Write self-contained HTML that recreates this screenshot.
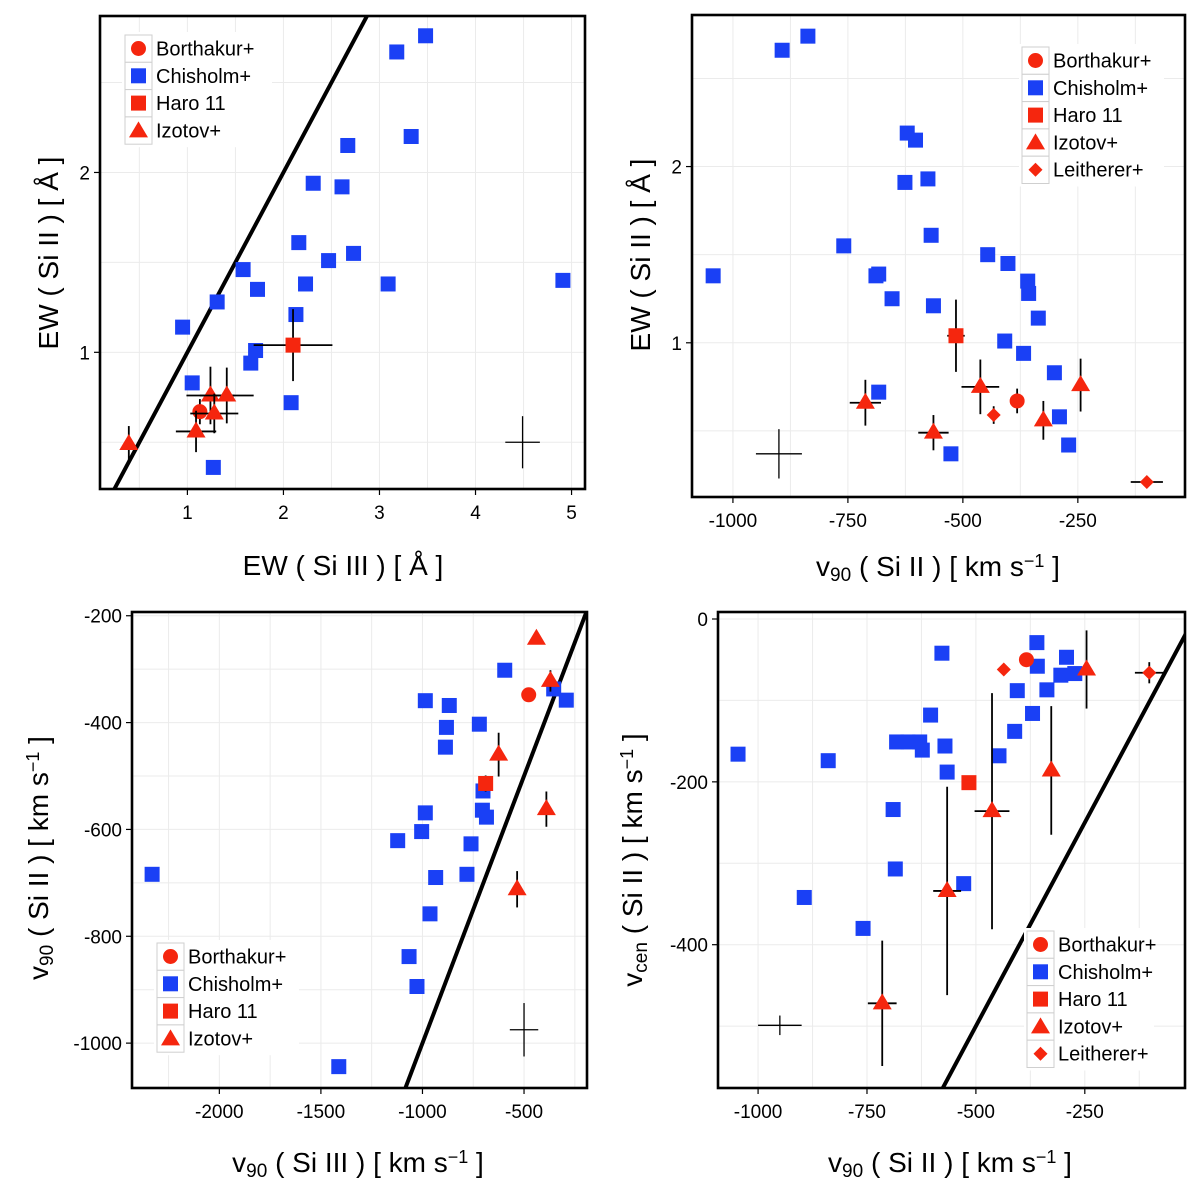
<!DOCTYPE html>
<html><head><meta charset="utf-8"><style>
html,body{margin:0;padding:0;background:#fff;overflow:hidden;width:1200px;height:1198px}
svg{display:block;font-family:"Liberation Sans",Arial,sans-serif}
</style></head><body>
<svg id="fig" width="1200" height="1198" viewBox="0 0 1200 1198" xmlns="http://www.w3.org/2000/svg"></svg>
<script>
// ---------- Panel 1 data: EW(Si III) vs EW(Si II) ----------
const p1ChisX=[3.48,3.18,3.33,2.67,2.31,2.61,2.16,2.73,2.47,1.58,2.23,1.73,3.09,4.91,1.31,0.95,2.13,1.71,1.66,1.05,2.08,1.27];
const p1ChisY=[2.76,2.67,2.20,2.15,1.94,1.92,1.61,1.55,1.51,1.46,1.38,1.35,1.38,1.40,1.28,1.14,1.21,1.01,0.94,0.83,0.72,0.36];
const p1BorX=[1.13], p1BorY=[0.67], p1BorXe=[0.04], p1BorYe=[0.07];
const p1HaroX=[2.10], p1HaroY=[1.04], p1HaroXe=[0.41], p1HaroYe=[0.2];
const p1IzoX=[0.39,1.09,1.24,1.41,1.28], p1IzoY=[0.49,0.56,0.76,0.76,0.66];
const p1IzoXe=[0,0.21,0.25,0.28,0.25], p1IzoYe=[0.1,0.115,0.16,0.155,0.11];
const p1RefX=[4.49], p1RefY=[0.50], p1RefXe=[0.18], p1RefYe=[0.145];
const p1XTicks=[1,2,3,4,5], p1YTicks=[1,2];
const p1XMinor=[0.5,1.5,2.5,3.5,4.5], p1YMinor=[0.5,1.5,2.5];

// ---------- Panel 2 data: v90(Si II) vs EW(Si II) ----------
const p2ChisX=[-1043,-893,-837,-621,-603,-626,-576,-759,-683,-689,-569,-446,-402,-359,-357,-654,-564,-336,-409,-368,-301,-683,-290,-270,-526];
const p2ChisY=[1.38,2.66,2.74,2.19,2.15,1.91,1.93,1.55,1.39,1.38,1.61,1.50,1.45,1.35,1.28,1.25,1.21,1.14,1.01,0.94,0.83,0.72,0.58,0.42,0.37];
const p2BorX=[-382], p2BorY=[0.67], p2BorXe=[0], p2BorYe=[0.07];
const p2HaroX=[-515], p2HaroY=[1.04], p2HaroXe=[19], p2HaroYe=[0.205];
const p2IzoX=[-712,-564,-462,-325,-244], p2IzoY=[0.66,0.49,0.75,0.56,0.76];
const p2IzoXe=[34,33,41,10,0], p2IzoYe=[0.13,0.1,0.155,0.11,0.15];
const p2LeiX=[-433,-100], p2LeiY=[0.59,0.21], p2LeiXe=[0,35], p2LeiYe=[0.05,0];
const p2RefX=[-900], p2RefY=[0.37], p2RefXe=[50], p2RefYe=[0.14];
const p2XTicks=[-1000,-750,-500,-250], p2YTicks=[1,2];
const p2XMinor=[-875,-625,-375,-125], p2YMinor=[0.5,1.5,2.5];

// ---------- Panel 3 data: v90(Si III) vs v90(Si II) ----------
const p3ChisX=[-2331,-1412,-595,-354,-292,-986,-868,-882,-720,-887,-702,-705,-685,-986,-1004,-1122,-761,-781,-935,-963,-1066,-1027];
const p3ChisY=[-684,-1044,-302,-337,-358,-359,-368,-409,-403,-446,-528,-564,-577,-569,-604,-621,-627,-684,-690,-758,-838,-894];
const p3BorX=[-477], p3BorY=[-348], p3BorXe=[0], p3BorYe=[0];
const p3HaroX=[-689], p3HaroY=[-514], p3HaroXe=[0], p3HaroYe=[15];
const p3IzoX=[-439,-370,-625,-390,-534], p3IzoY=[-243,-322,-460,-562,-712];
const p3IzoXe=[0,0,0,0,0], p3IzoYe=[8,20,41,33,34];
const p3RefX=[-500], p3RefY=[-975], p3RefXe=[70], p3RefYe=[50];
const p3XTicks=[-2000,-1500,-1000,-500], p3YTicks=[-1000,-800,-600,-400,-200];
const p3XMinor=[-2250,-1750,-1250,-750,-250], p3YMinor=[-1100,-900,-700,-500,-300];

// ---------- Panel 4 data: v90(Si II) vs vcen(Si II) ----------
const p4ChisX=[-1046,-839,-894,-759,-578,-604,-682,-656,-629,-623,-571,-566,-690,-685,-528,-447,-411,-370,-405,-337,-360,-359,-292,-305,-273];
const p4ChisY=[-166,-174,-342,-380,-42,-118,-151,-151,-151,-161,-156,-188,-234,-307,-325,-168,-138,-116,-88,-87,-29,-58,-47,-69,-67];
const p4BorX=[-384], p4BorY=[-50], p4BorXe=[0], p4BorYe=[0];
const p4HaroX=[-516], p4HaroY=[-201], p4HaroXe=[0], p4HaroYe=[0];
const p4IzoX=[-715,-566,-463,-327,-246], p4IzoY=[-472,-334,-236,-186,-62];
const p4IzoXe=[33,32,40,12,0], p4IzoYe=[77,128,145,79,48];
const p4LeiX=[-436,-102], p4LeiY=[-62,-66], p4LeiXe=[0,33], p4LeiYe=[0,13];
const p4RefX=[-950], p4RefY=[-499], p4RefXe=[50], p4RefYe=[12];
const p4XTicks=[-1000,-750,-500,-250], p4YTicks=[-400,-200,0];
const p4XMinor=[-875,-625,-375,-125], p4YMinor=[-500,-300,-100];

const RED="#f5260e", BLUE="#1a40f5";
const NS="http://www.w3.org/2000/svg";
const fig=document.getElementById('fig');
function el(tag,attrs,parent){const e=document.createElementNS(NS,tag);for(const k in attrs)e.setAttribute(k,attrs[k]);(parent||fig).appendChild(e);return e;}

function marker(g,shape,x,y,color){
  if(shape==='circle')return el('circle',{cx:x,cy:y,r:7.5,fill:color},g);
  if(shape==='square')return el('rect',{x:x-7.5,y:y-7.5,width:15,height:15,fill:color},g);
  if(shape==='triangle')return el('polygon',{points:`${x},${y-10} ${x+9.5},${y+6} ${x-9.5},${y+6}`,fill:color},g);
  return el('polygon',{points:`${x},${y-7} ${x+7},${y} ${x},${y+7} ${x-7},${y}`,fill:color},g);
}

function mkSeries(d){
  const s=[
    {name:'chisholm',label:'Chisholm+',shape:'square',color:BLUE,x:d.chisX,y:d.chisY},
    {name:'borthakur',label:'Borthakur+',shape:'circle',color:RED,x:d.borX,y:d.borY,xe:d.borXe,ye:d.borYe},
    {name:'haro-11',label:'Haro 11',shape:'square',color:RED,x:d.haroX,y:d.haroY,xe:d.haroXe,ye:d.haroYe},
    {name:'izotov',label:'Izotov+',shape:'triangle',color:RED,x:d.izoX,y:d.izoY,xe:d.izoXe,ye:d.izoYe}
  ];
  if(d.leiX)s.push({name:'leitherer',label:'Leitherer+',shape:'diamond',color:RED,x:d.leiX,y:d.leiY,xe:d.leiXe,ye:d.leiYe});
  s.push({name:'typical-error-cross',ref:true,x:d.refX,y:d.refY,xe:d.refXe,ye:d.refYe});
  return s;
}

function drawPanel(id,cfg,ser){
  const [L,T,R,B]=cfg.frame;
  const sx=v=>L+(v-cfg.xr[0])/(cfg.xr[1]-cfg.xr[0])*(R-L);
  const sy=v=>B-(v-cfg.yr[0])/(cfg.yr[1]-cfg.yr[0])*(B-T);
  const g=el('g',{});
  
  
  const defs=el('defs',{},g);
  const cp=el('clipPath',{id:'clip-'+id},defs);
  el('rect',{x:L,y:T,width:R-L,height:B-T},cp);
  const grid=el('g',{stroke:'#ebebeb','stroke-width':1},g);
  
  
  cfg.xMinor.concat(cfg.xTicks).forEach(v=>{const x=sx(v);if(x>L&&x<R)el('line',{x1:x,x2:x,y1:T,y2:B},grid);});
  cfg.yMinor.concat(cfg.yTicks).forEach(v=>{const y=sy(v);if(y>T&&y<B)el('line',{x1:L,x2:R,y1:y,y2:y},grid);});
  const dg=el('g',{'clip-path':`url(#clip-${id})`},g);
  
  
  const a=Math.min(cfg.xr[0],cfg.yr[0])-5000, b=Math.max(cfg.xr[1],cfg.yr[1])+5000;
  const ln=el('line',{x1:sx(a),y1:sy(a),x2:sx(b),y2:sy(b),stroke:'#000','stroke-width':4},dg);
  
  
  ser.forEach(s=>{
    const sg=el('g',{},dg);
    
    
    s.x.forEach((xv,i)=>{
      const x=sx(xv), y=sy(s.y[i]);
      const xe=s.xe?s.xe[i]:0, ye=s.ye?s.ye[i]:0;
      const w=s.ref?1.3:1.8;
      if(xe>0){const e=el('line',{x1:sx(xv-xe),x2:sx(xv+xe),y1:y,y2:y,stroke:'#000','stroke-width':w},sg);
        
        }
      if(ye>0){const e=el('line',{x1:x,x2:x,y1:sy(s.y[i]-ye),y2:sy(s.y[i]+ye),stroke:'#000','stroke-width':w},sg);
        
        }
      if(!s.ref){const m=marker(sg,s.shape,x,y,s.color);
        
        }
    });
  });
  const fr=el('rect',{x:L,y:T,width:R-L,height:B-T,fill:'none',stroke:'#000','stroke-width':2.6},g);
  
  
  cfg.xTicks.forEach(v=>{const x=sx(v);
    const t=el('line',{x1:x,x2:x,y1:B+1,y2:B+6,stroke:'#000','stroke-width':1.2},g);
    
    
    const tx=el('text',{x:x,y:B+30,'text-anchor':'middle','font-size':19,fill:'#000'},g);
    tx.textContent=String(v);
    
    });
  cfg.yTicks.forEach(v=>{const y=sy(v);
    const t=el('line',{x1:L-6,x2:L-1,y1:y,y2:y,stroke:'#000','stroke-width':1.2},g);
    
    
    const tx=el('text',{x:L-10,y:y+7,'text-anchor':'end','font-size':19,fill:'#000'},g);
    tx.textContent=String(v);
    
    });
  const xt=el('text',{x:cfg.xTitlePos[0],y:cfg.xTitlePos[1],'text-anchor':'middle','font-size':28,fill:'#000'},g);
  xt.innerHTML=cfg.xTitle;
  
  
  const yt=el('text',{x:0,y:0,'text-anchor':'middle','font-size':28,fill:'#000',transform:`translate(${cfg.yTitlePos[0]},${cfg.yTitlePos[1]}) rotate(-90)`},g);
  yt.innerHTML=cfg.yTitle;
  
  
  const order=['borthakur','chisholm','haro-11','izotov','leitherer'];
  const ls=order.map(n=>ser.find(s=>s.name===n)).filter(Boolean);
  const [lx,ly]=cfg.legendPos;
  const lg=el('g',{},g);
  
  
  el('rect',{x:lx-3,y:ly-3,width:cfg.legendW,height:ls.length*27.3+6,fill:'#fff'},lg);
  ls.forEach((s,i)=>{
    const eg=el('g',{},lg);
    
    
    const y0=ly+i*27.3;
    el('rect',{x:lx,y:y0,width:27,height:27.3,fill:'#fff',stroke:'#cfcfcf','stroke-width':1},eg);
    marker(eg,s.shape,lx+13.5,y0+13.5+(s.shape==='triangle'?1:0),s.color);
    const tx=el('text',{x:lx+31,y:y0+20.5,'font-size':20,fill:'#000'},eg);
    tx.textContent=s.label;
  });
}

const sub='<tspan baseline-shift="-25%" font-size="19">';
const sup='<tspan baseline-shift="50%" font-size="18">';
const kms=`[ km s${sup}−1</tspan> ]`;

drawPanel('panel-ew-si3-vs-ew-si2',{frame:[100,16,585,489],xr:[0.09,5.14],yr:[0.24,2.87],
  xTicks:p1XTicks,yTicks:p1YTicks,xMinor:p1XMinor,yMinor:p1YMinor,
  xTitle:'EW ( Si III ) [ Å ]',xTitlePos:[343,575],yTitle:'EW ( Si II ) [ Å ]',yTitlePos:[58,253],
  legendPos:[125,35],legendW:150},
  mkSeries({chisX:p1ChisX,chisY:p1ChisY,borX:p1BorX,borY:p1BorY,borXe:p1BorXe,borYe:p1BorYe,
    haroX:p1HaroX,haroY:p1HaroY,haroXe:p1HaroXe,haroYe:p1HaroYe,izoX:p1IzoX,izoY:p1IzoY,izoXe:p1IzoXe,izoYe:p1IzoYe,
    refX:p1RefX,refY:p1RefY,refXe:p1RefXe,refYe:p1RefYe}));
drawPanel('panel-v90-si2-vs-ew-si2',{frame:[692,15,1185,497],xr:[-1089,-17],yr:[0.125,2.86],
  xTicks:p2XTicks,yTicks:p2YTicks,xMinor:p2XMinor,yMinor:p2YMinor,
  xTitle:`v${sub}90</tspan> ( Si II ) ${kms}`,xTitlePos:[938,576],yTitle:'EW ( Si II ) [ Å ]',yTitlePos:[650,255],
  legendPos:[1022,47],legendW:145},
  mkSeries({chisX:p2ChisX,chisY:p2ChisY,borX:p2BorX,borY:p2BorY,borXe:p2BorXe,borYe:p2BorYe,
    haroX:p2HaroX,haroY:p2HaroY,haroXe:p2HaroXe,haroYe:p2HaroYe,izoX:p2IzoX,izoY:p2IzoY,izoXe:p2IzoXe,izoYe:p2IzoYe,
    leiX:p2LeiX,leiY:p2LeiY,leiXe:p2LeiXe,leiYe:p2LeiYe,refX:p2RefX,refY:p2RefY,refXe:p2RefXe,refYe:p2RefYe}));
drawPanel('panel-v90-si3-vs-v90-si2',{frame:[132,612,587,1088],xr:[-2430,-190],yr:[-1084,-193],
  xTicks:p3XTicks,yTicks:p3YTicks,xMinor:p3XMinor,yMinor:p3YMinor,
  xTitle:`v${sub}90</tspan> ( Si III ) ${kms}`,xTitlePos:[358,1172],yTitle:`v${sub}90</tspan> ( Si II ) ${kms}`,yTitlePos:[48,858],
  legendPos:[157,943],legendW:145},
  mkSeries({chisX:p3ChisX,chisY:p3ChisY,borX:p3BorX,borY:p3BorY,borXe:p3BorXe,borYe:p3BorYe,
    haroX:p3HaroX,haroY:p3HaroY,haroXe:p3HaroXe,haroYe:p3HaroYe,izoX:p3IzoX,izoY:p3IzoY,izoXe:p3IzoXe,izoYe:p3IzoYe,
    refX:p3RefX,refY:p3RefY,refXe:p3RefXe,refYe:p3RefYe}));
drawPanel('panel-v90-si2-vs-vcen-si2',{frame:[718,612,1185,1088],xr:[-1092,-20],yr:[-576,8.6],
  xTicks:p4XTicks,yTicks:p4YTicks,xMinor:p4XMinor,yMinor:p4YMinor,
  xTitle:`v${sub}90</tspan> ( Si II ) ${kms}`,xTitlePos:[950,1172],yTitle:`v${sub}cen</tspan> ( Si II ) ${kms}`,yTitlePos:[642,860],
  legendPos:[1027,931],legendW:130},
  mkSeries({chisX:p4ChisX,chisY:p4ChisY,borX:p4BorX,borY:p4BorY,borXe:p4BorXe,borYe:p4BorYe,
    haroX:p4HaroX,haroY:p4HaroY,haroXe:p4HaroXe,haroYe:p4HaroYe,izoX:p4IzoX,izoY:p4IzoY,izoXe:p4IzoXe,izoYe:p4IzoYe,
    leiX:p4LeiX,leiY:p4LeiY,leiXe:p4LeiXe,leiYe:p4LeiYe,refX:p4RefX,refY:p4RefY,refXe:p4RefXe,refYe:p4RefYe}));
</script>
</body></html>
